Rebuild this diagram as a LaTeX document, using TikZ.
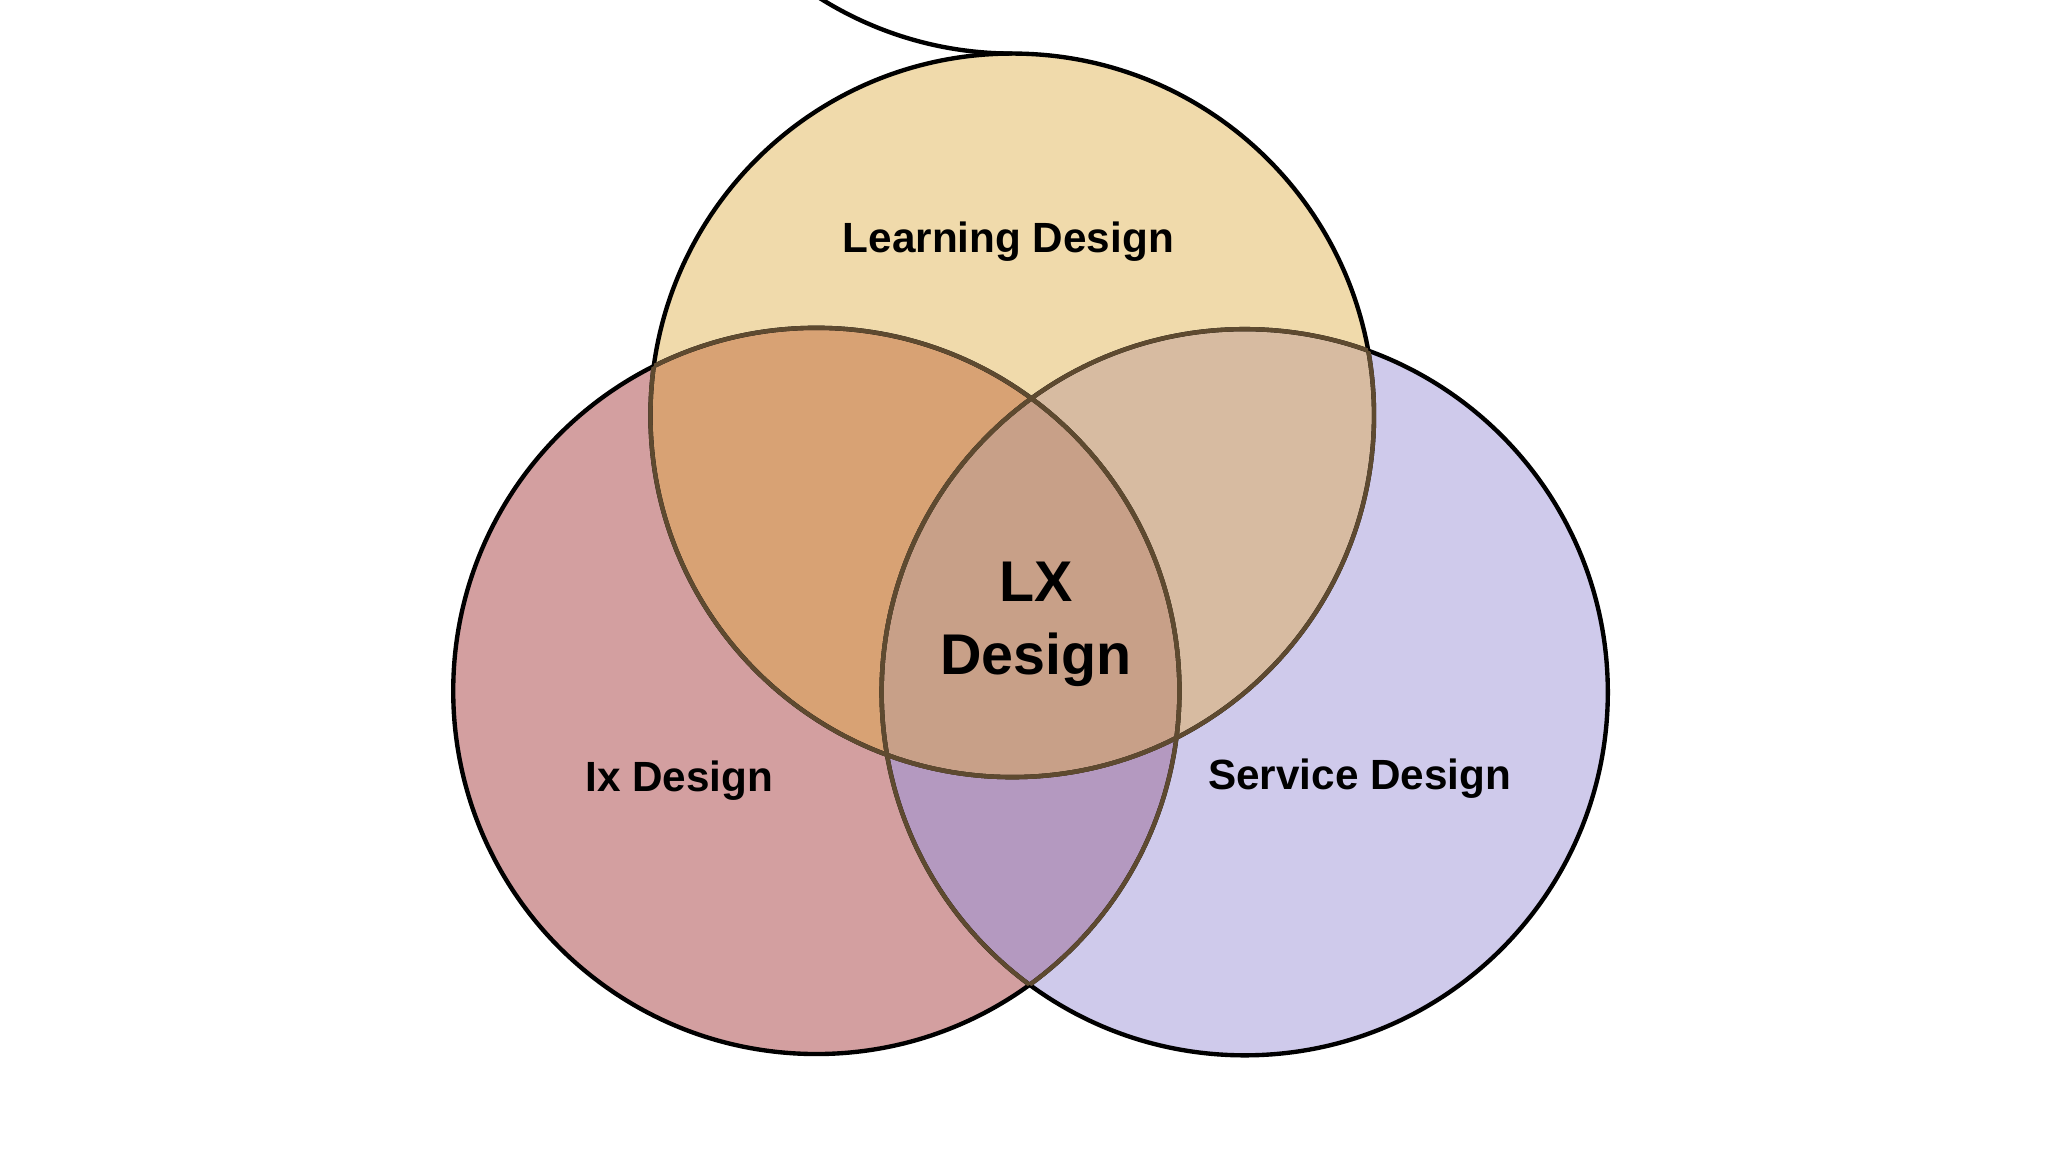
\documentclass[tikz,border=0pt]{standalone}
\usepackage{fontspec}
\setmainfont{Liberation Sans}
\definecolor{cT}{HTML}{F0DAAB}
\definecolor{cL}{HTML}{D39FA0}
\definecolor{cR}{HTML}{CFCAEB}
\definecolor{cTL}{HTML}{D8A274}
\definecolor{cTR}{HTML}{D7BBA1}
\definecolor{cLR}{HTML}{B499C0}
\definecolor{cTLR}{HTML}{C8A088}
\definecolor{edge}{HTML}{5E4A30}
\begin{document}
\begin{tikzpicture}[x=0.01cm,y=-0.01cm,
  lbl/.style={font=\bfseries\fontsize{9.2}{11}\selectfont, text=black},
  big/.style={font=\bfseries\fontsize{12.5}{16}\selectfont, text=black, align=center},
  ring/.style={line width=0.95pt}]
\useasboundingbox (0,0) rectangle (1568,882);
\fill[white] (0,0) rectangle (1568,882);
\def\T{(775,318) circle (277)}
\def\L{(625,529) circle (278)}
\def\R{(953,530) circle (278)}
\fill[cL] \L; \fill[cR] \R; \fill[cT] \T;
\begin{scope}\clip \T; \fill[cTL] \L; \end{scope}
\begin{scope}\clip \T; \fill[cTR] \R; \end{scope}
\begin{scope}\clip \L; \fill[cLR] \R; \end{scope}
\begin{scope}\clip \L; \clip \R; \fill[cTLR] \T; \end{scope}
\draw[ring] \T; \draw[ring] \L; \draw[ring] \R;
\begin{scope}\clip \L; \draw[ring,edge] \T; \draw[ring,edge] \R; \end{scope}
\begin{scope}\clip \R; \draw[ring,edge] \T; \draw[ring,edge] \L; \end{scope}
\begin{scope}\clip \T; \draw[ring,edge] \L; \draw[ring,edge] \R; \end{scope}
\draw[ring] (775,41) arc (90:170:277);
\node[lbl] (ld) at (772,185) {Learning Design};
\node[lbl] (ix) at (520,598) {Ix Design};
\node[lbl] (sd) at (1041,596) {Service Design};
\node[big] (lx) at (793,478) {LX\\Design};
\end{tikzpicture}
\end{document}
